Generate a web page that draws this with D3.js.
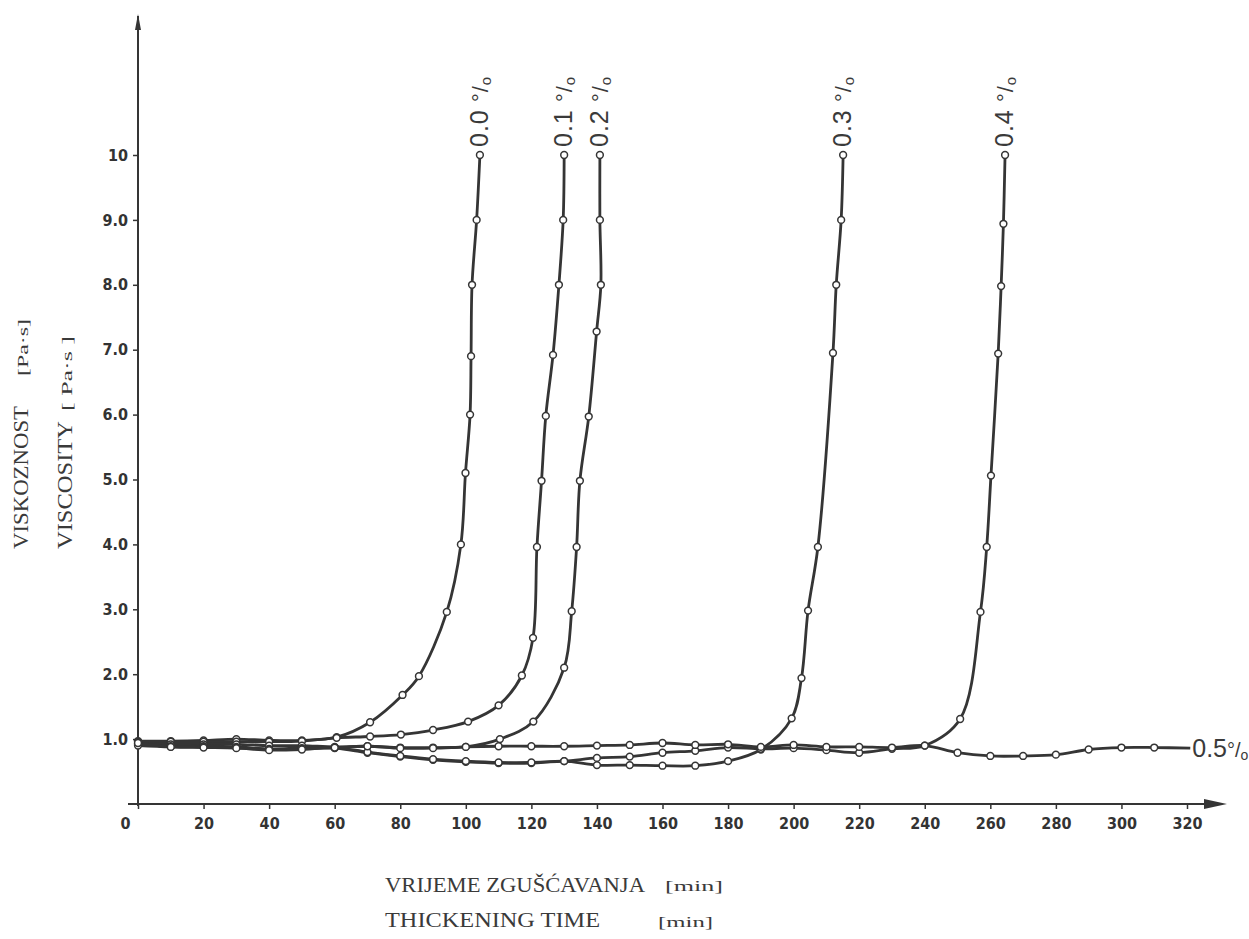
<!DOCTYPE html>
<html>
<head>
<meta charset="utf-8">
<script src="https://cdn.jsdelivr.net/npm/d3@7"></script>
<style>
  html, body { margin: 0; padding: 0; background: #ffffff; }
  svg { display: block; }
</style>
</head>
<body>
<svg id="chart" width="1249" height="939"></svg>
<script>
// ---------------- DATA ----------------
const seriesNames = ["0.0", "0.1", "0.2", "0.3", "0.4", "0.5"];

const time00 = [0, 10, 20, 30, 40, 50, 60.6, 70.8, 80.7, 85.7, 94.2, 98.5, 99.9, 101.3, 101.6, 101.9, 103.3, 104.3];
const visc00 = [0.97, 0.97, 0.98, 1.0, 0.98, 0.98, 1.03, 1.26, 1.68, 1.97, 2.96, 4.0, 5.1, 6.0, 6.9, 8.0, 9.0, 10];

const time01 = [0, 10, 20, 30, 40, 50, 60.6, 70.8, 80.2, 90, 100.7, 110, 117.1, 120.5, 121.7, 123.1, 124.4, 126.6, 128.4, 129.7, 130];
const visc01 = [0.96, 0.96, 0.96, 0.96, 0.96, 0.97, 1.02, 1.04, 1.07, 1.14, 1.27, 1.52, 1.98, 2.56, 3.96, 4.98, 5.98, 6.92, 8.0, 9.0, 10];

const time02 = [0, 10, 20, 30, 40, 50, 60, 70, 80, 90, 100, 110.4, 120.6, 130, 132.3, 133.8, 134.8, 137.5, 139.9, 141.2, 140.9, 140.9];
const visc02 = [0.93, 0.92, 0.92, 0.92, 0.9, 0.9, 0.88, 0.89, 0.87, 0.87, 0.88, 1.0, 1.27, 2.1, 2.97, 3.96, 4.98, 5.97, 7.28, 8.0, 9.0, 10];

const time03 = [0, 10, 20, 30, 40, 50, 60, 70, 80, 90, 100, 110, 120, 130, 140, 150, 160, 170, 180, 190, 199.4, 202.4, 204.4, 207.4, 212, 213, 214.5, 215.1];
const visc03 = [0.92, 0.89, 0.89, 0.88, 0.85, 0.86, 0.86, 0.79, 0.73, 0.68, 0.65, 0.63, 0.63, 0.66, 0.6, 0.6, 0.59, 0.59, 0.66, 0.84, 1.32, 1.94, 2.98, 3.96, 6.95, 8.0, 9.0, 10];

const time04 = [0, 10, 20, 30, 40, 50, 60, 70, 80, 90, 100, 110, 120, 130, 140, 150, 160, 170, 180, 190, 200, 210, 220, 230, 240, 250.8, 257, 258.9, 260.2, 262.4, 263.3, 264, 264.5];
const visc04 = [0.9, 0.88, 0.88, 0.87, 0.84, 0.85, 0.87, 0.8, 0.74, 0.69, 0.66, 0.64, 0.64, 0.66, 0.71, 0.73, 0.79, 0.82, 0.87, 0.85, 0.86, 0.83, 0.79, 0.85, 0.9, 1.31, 2.96, 3.96, 5.06, 6.94, 7.98, 8.94, 10];

const time05 = [0, 10, 20, 30, 40, 50, 60, 70, 80, 90, 100, 110, 120, 130, 140, 150, 160, 170, 180, 190, 200, 210, 220, 230, 240, 250, 260, 270, 280, 290, 300, 310, 321];
const visc05 = [0.94, 0.88, 0.87, 0.86, 0.83, 0.84, 0.87, 0.89, 0.86, 0.86, 0.88, 0.89, 0.89, 0.89, 0.9, 0.91, 0.94, 0.91, 0.92, 0.88, 0.91, 0.88, 0.88, 0.87, 0.9, 0.79, 0.74, 0.74, 0.76, 0.84, 0.87, 0.87, 0.86];

const xTicks = [0, 20, 40, 60, 80, 100, 120, 140, 160, 180, 200, 220, 240, 260, 280, 300, 320];
const yTicks = [1, 2, 3, 4, 5, 6, 7, 8, 9, 10];
const yTickLabels = ["1.0", "2.0", "3.0", "4.0", "5.0", "6.0", "7.0", "8.0", "9.0", "10"];

const yTitleHr = "VISKOZNOST";
const yTitleEn = "VISCOSITY";
const yUnitHr = "[Pa·s]";
const yUnitEn = "[ Pa·s ]";
const xTitleHr = "VRIJEME ZGUŠĆAVANJA";
const xTitleEn = "THICKENING TIME";
const xUnit = "[min]";

// ---------------- CHART ----------------
const svg = d3.select("#chart");
const ink = "#353535";

const x = d3.scaleLinear().domain([0, 320]).range([138, 1187]);
const y = d3.scaleLinear().domain([0, 10]).range([804, 155]);

const times = [time00, time01, time02, time03, time04, time05];
const viscs = [visc00, visc01, visc02, visc03, visc04, visc05];
const series = seriesNames.map((name, i) => ({
  name,
  points: times[i].map((t, j) => ({ t, v: viscs[i][j] }))
}));

// axes
const axisG = svg.append("g");
axisG.append("line")
  .attr("x1", 128).attr("x2", 1210)
  .attr("y1", y(0)).attr("y2", y(0))
  .attr("stroke", ink).attr("stroke-width", 2);
axisG.append("path")
  .attr("d", `M1204,${y(0) - 5} L1227,${y(0)} L1204,${y(0) + 5} Z`)
  .attr("fill", ink);
axisG.append("line")
  .attr("x1", x(0)).attr("x2", x(0))
  .attr("y1", y(0) + 2).attr("y2", 16)
  .attr("stroke", ink).attr("stroke-width", 2);
axisG.append("path")
  .attr("d", `M${x(0) - 3},30 L${x(0)},14 L${x(0) + 3},30 Z`)
  .attr("fill", ink);

const tickFont = "'Liberation Sans Narrow', 'DejaVu Sans Condensed', 'Liberation Sans', sans-serif";

// x ticks
const xAxis = d3.axisBottom(x).tickValues(xTicks).tickSize(5).tickFormat(d3.format("d"));
const gx = svg.append("g").attr("transform", `translate(0,${y(0)})`).call(xAxis);
gx.select(".domain").remove();
gx.selectAll(".tick line").attr("stroke", ink).attr("stroke-width", 1.5);
gx.selectAll(".tick text")
  .attr("fill", "#333")
  .attr("font-family", tickFont)
  .attr("font-size", 16)
  .attr("font-weight", "bold")
  .attr("dy", "1.05em")
  .attr("dx", d => d === 0 ? -13 : 0);

// y ticks
const yAxis = d3.axisLeft(y).tickValues(yTicks).tickSize(5)
  .tickFormat((d, i) => yTickLabels[i]);
const gy = svg.append("g").attr("transform", `translate(${x(0)},0)`).call(yAxis);
gy.select(".domain").remove();
gy.selectAll(".tick line").attr("stroke", ink).attr("stroke-width", 1.5);
gy.selectAll(".tick text")
  .attr("fill", "#333")
  .attr("font-family", tickFont)
  .attr("font-size", 16)
  .attr("font-weight", "bold")
  .attr("x", -10);

// curves
const line = d3.line()
  .x(d => x(d.t)).y(d => y(d.v))
  .curve(d3.curveCatmullRom.alpha(0.5));

const curveG = svg.append("g");
series.forEach((s) => {
  curveG.append("path")
    .datum(s.points)
    .attr("d", line)
    .attr("fill", "none")
    .attr("stroke", ink)
    .attr("stroke-width", 2.8)
    .attr("stroke-linejoin", "round");
});
series.forEach((s, i) => {
  const pts = i === 5 ? s.points.slice(0, -1) : s.points;
  curveG.selectAll(null)
    .data(pts)
    .enter().append("circle")
    .attr("cx", d => x(d.t)).attr("cy", d => y(d.v))
    .attr("r", 3.4)
    .attr("fill", "#ffffff")
    .attr("stroke", ink)
    .attr("stroke-width", 1.5);
});

// curve labels
const labelFont = "'Liberation Sans', 'DejaVu Sans', sans-serif";
function percentLabel(sel, txt) {
  sel.append("tspan").text(txt);
  sel.append("tspan").text(" °/").attr("font-size", 22);
  sel.append("tspan").text("o").attr("font-size", 15).attr("dy", 3);
}
series.slice(0, 5).forEach((s) => {
  const last = s.points[s.points.length - 1];
  const lx = x(last.t) + 8;
  const ly = y(last.v) - 8;
  const t = svg.append("text")
    .attr("transform", `translate(${lx},${ly}) rotate(-90)`)
    .attr("font-family", labelFont)
    .attr("font-size", 25)
    .attr("fill", "#3a3a3a")
    .attr("letter-spacing", 1);
  percentLabel(t, s.name);
});
{
  const s = series[5];
  const last = s.points[s.points.length - 1];
  const t = svg.append("text")
    .attr("x", x(last.t) + 2).attr("y", y(last.v) + 9)
    .attr("font-family", labelFont)
    .attr("font-size", 25)
    .attr("fill", "#3a3a3a");
  t.append("tspan").text(s.name);
  t.append("tspan").text("°/").attr("font-size", 20);
  t.append("tspan").text("o").attr("font-size", 14).attr("dy", 3);
}

// axis titles (typewriter-like serif)
const typeFont = "'Liberation Serif', 'DejaVu Serif', serif";
function vText(cx, cy, txt, size, len) {
  svg.append("text")
    .attr("transform", `translate(${cx},${cy}) rotate(-90)`)
    .attr("font-family", typeFont)
    .attr("font-size", size)
    .attr("textLength", len)
    .attr("lengthAdjust", "spacingAndGlyphs")
    .attr("fill", "#3a3a3a")
    .text(txt);
}
vText(28, 549, yTitleHr, 20, 143);
vText(28, 376, yUnitHr, 15, 57);
vText(72, 549, yTitleEn, 20, 128);
vText(72, 411, yUnitEn, 15, 75);

function hText(px, py, txt, size, len) {
  svg.append("text")
    .attr("x", px).attr("y", py)
    .attr("font-family", typeFont)
    .attr("font-size", size)
    .attr("textLength", len)
    .attr("lengthAdjust", "spacingAndGlyphs")
    .attr("fill", "#3a3a3a")
    .text(txt);
}
hText(385, 892, xTitleHr, 20, 260);
hText(665, 891, xUnit, 15, 58);
hText(385, 927, xTitleEn, 20, 215);
hText(658, 927, xUnit, 15, 55);
</script>
</body>
</html>
